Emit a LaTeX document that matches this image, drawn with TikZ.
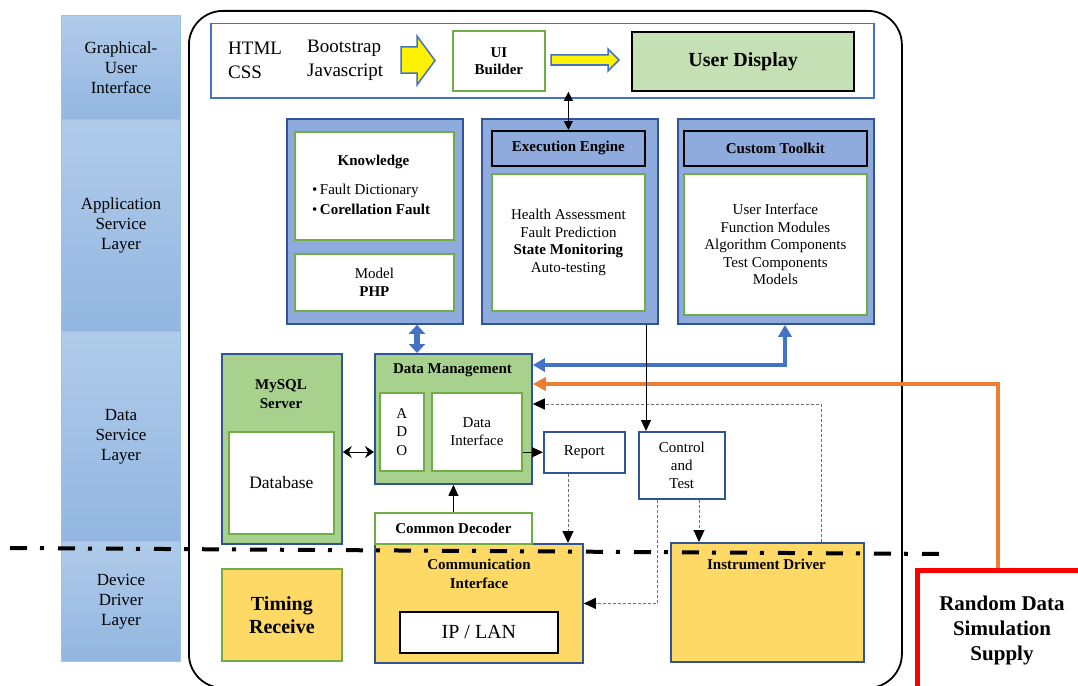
\documentclass[tikz,border=0pt]{standalone}
\usepackage{fontspec}
\setmainfont{Liberation Serif}
\usetikzlibrary{arrows.meta}
\definecolor{layerline}{HTML}{9DC3E6}
\definecolor{layertop}{HTML}{B0CBEA}
\definecolor{layerbot}{HTML}{92B6E0}
\definecolor{panelblue}{HTML}{8FAADC}
\definecolor{darkblue}{HTML}{2F5597}
\definecolor{midblue}{HTML}{4472C4}
\definecolor{leafgreen}{HTML}{70AD47}
\definecolor{datagreen}{HTML}{A9D18E}
\definecolor{palegreen}{HTML}{C5E0B4}
\definecolor{gold}{HTML}{FFD966}
\definecolor{orng}{HTML}{ED7D31}
\definecolor{dashgray}{HTML}{6F6F6F}
\tikzset{
	box/.style={anchor=north west, inner sep=0, align=center},
	layer/.style={box, draw=layerline, line width=1pt, top color=layertop, bottom color=layerbot,
		minimum width=119, font=\fontsize{17}{20}\selectfont},
	panel/.style={box, draw=darkblue, fill=panelblue, line width=1.8pt},
	leaf/.style={box, draw=leafgreen, fill=white, line width=1.8pt, font=\fontsize{15}{17.5}\selectfont},
	head/.style={box, draw=black, fill=panelblue, line width=1.8pt, font=\bfseries\fontsize{15}{18}\selectfont},
	store/.style={box, draw=darkblue, fill=datagreen, line width=1.8pt},
	dev/.style={box, draw=darkblue, fill=gold, line width=1.8pt},
	plain/.style={box, draw=darkblue, fill=white, line width=1.5pt, font=\fontsize{15}{18}\selectfont},
	title/.style={inner sep=0, align=center, font=\bfseries\fontsize{15}{18.5}\selectfont},
	arr/.style={draw=black, line width=1pt, -{Triangle[width=10pt,length=11pt]}},
	both/.style={draw=black, line width=1pt, {Stealth[width=12pt,length=9pt]}-{Stealth[width=12pt,length=9pt]}},
	dasharr/.style={draw=dashgray, line width=1pt, dash pattern=on 3pt off 2pt, -{Triangle[width=11pt,length=12pt,color=black]}},
	fatarrow/.style={draw=midblue, fill=yellow, line width=1.5pt}
}
\begin{document}
\begin{tikzpicture}[x=1pt, y=-1pt]
	\useasboundingbox (0,0) rectangle (1078,685);
	\node[layer, minimum height=104] (lgui) at (61,15) {Graphical-\\User\\Interface};
	\node[layer, minimum height=212] (lapp) at (61,119) {Application\\Service\\Layer};
	\node[layer, minimum height=210] (ldata) at (61,331) {Data\\Service\\Layer};
	\node[layer, minimum height=120] (ldev) at (61,541) {Device\\Driver\\Layer};
	\node[box, draw=black, line width=1.8pt, rounded corners=34, minimum width=713, minimum height=677] (frame) at (188,10) {};

	\node[box, draw=midblue, fill=white, line width=1.5pt, minimum width=663, minimum height=74] (guibox) at (210,23) {};
	\node[anchor=west, inner sep=0, align=left, font=\fontsize{19}{24}\selectfont] (html) at (228,60) {HTML\\CSS};
	\node[anchor=west, inner sep=0, align=left, font=\fontsize{19}{24}\selectfont] (boot) at (307,60) {Bootstrap\\Javascript};
	\draw[fatarrow] (401,47) -- (417,47) -- (417,36) -- (435,60.5) -- (417,85) -- (417,73) -- (401,73) -- cycle;
	\node[leaf, minimum width=92, minimum height=60, font=\bfseries\fontsize{15}{17}\selectfont] (ui) at (452,30) {UI\\Builder};
	\draw[fatarrow] (551,55) -- (608,55) -- (608,49) -- (619,60) -- (608,71) -- (608,65) -- (551,65) -- cycle;
	\node[box, draw=black, fill=palegreen, line width=2.2pt, minimum width=222, minimum height=59,
		font=\bfseries\fontsize{20}{24}\selectfont] (disp) at (631,31) {User Display};

	\node[panel, minimum width=176, minimum height=205] (know) at (286,118) {};
	\node[leaf, minimum width=159, minimum height=108] (kbox) at (294,131) {};
	\node[title] (ktitle) at (373.5,162) {Knowledge};
	\node[anchor=west, inner sep=0, align=left, font=\fontsize{15}{20}\selectfont] (kitems) at (312,199)
		{\textbullet\,Fault Dictionary\\\textbullet\,\textbf{Corellation Fault}};
	\node[leaf, minimum width=159, minimum height=57] (model) at (294,253) {Model\\\textbf{PHP}};

	\node[panel, minimum width=176, minimum height=205] (exe) at (481,118) {};
	\node[head, minimum width=153, minimum height=35] (ehead) at (491,130) {Execution Engine};
	\node[leaf, minimum width=153, minimum height=137] (ebody) at (491,173)
		{Health Assessment\\Fault Prediction\\\textbf{State Monitoring}\\Auto-testing};

	\node[panel, minimum width=196, minimum height=205] (tk) at (677,118) {};
	\node[head, minimum width=183, minimum height=35] (thead) at (683,130) {Custom Toolkit};
	\node[leaf, minimum width=183, minimum height=141] (tbody) at (683,173)
		{User Interface\\Function Modules\\Algorithm Components\\Test Components\\Models};

	\node[store, minimum width=120, minimum height=190] (sql) at (221,353) {};
	\node[title] (sqltitle) at (281,394) {MySQL\\Server};
	\node[leaf, minimum width=105, minimum height=102, font=\fontsize{17.5}{20}\selectfont] (db) at (228,431) {Database};

	\node[store, minimum width=157, minimum height=130] (dm) at (374,353) {};
	\node[title] (dmtitle) at (452.5,370) {Data Management};
	\node[leaf, minimum width=44, minimum height=78, font=\fontsize{15}{18.5}\selectfont] (ado) at (379,392) {A\\D\\O};
	\node[leaf, minimum width=90, minimum height=78, font=\fontsize{15}{18}\selectfont] (dif) at (431,392) {Data\\Interface};

	\node[plain, minimum width=81, minimum height=41] (rep) at (543,431) {Report};
	\node[plain, minimum width=86, minimum height=67] (ctl) at (638,431) {Control\\and\\Test};

	\node[dev, minimum width=208, minimum height=119] (comm) at (374,543) {};
	\node[leaf, minimum width=157, minimum height=31, font=\bfseries\fontsize{15}{18}\selectfont] (dec) at (374,512) {Common Decoder};
	\node[title, font=\bfseries\fontsize{15}{19}\selectfont] (commtitle) at (479,573.5) {Communication\\Interface};
	\node[box, draw=black, fill=white, line width=1.8pt, minimum width=158, minimum height=41,
		font=\fontsize{20}{24}\selectfont] (ip) at (399,611) {IP / LAN};
	\node[box, draw=leafgreen, fill=gold, line width=1.8pt, minimum width=120, minimum height=92,
		font=\bfseries\fontsize{20}{23}\selectfont] (timing) at (221,568) {Timing\\Receive};
	\node[dev, minimum width=193, minimum height=119] (drv) at (670,542) {};
	\node[title] (drvtitle) at (766.5,564) {Instrument Driver};

	\node[box, draw=red, fill=white, line width=5pt, minimum width=200, minimum height=150] (rnd) at (915,568) {};
	\node[title, font=\bfseries\fontsize{21}{25}\selectfont] (rndtitle) at (1002,630) {Random Data\\Simulation\\Supply};

	\coordinate (kd) at (417,0);
	\coordinate (tkout) at (785,0);
	\coordinate (rin) at (998,0);
	\coordinate (dout) at (821,0);
	\coordinate (sd) at (0,452);
	\coordinate (ctin) at (646,0);
	\coordinate (rc) at (568,0);
	\coordinate (cd) at (699,0);
	\coordinate (cc) at (657,0);

	\draw[draw=black, line width=1pt, {Triangle[width=9pt,length=9pt]}-{Triangle[width=9pt,length=9pt]}]
		(ehead.north |- ui.south) -- (ehead.north);
	\draw[draw=midblue, line width=6pt, {Triangle[width=16pt,length=9pt]}-{Triangle[width=16pt,length=9pt]}]
		(kd |- know.south) -- (kd |- dm.north);
	\draw[draw=midblue, line width=4pt, {Triangle[width=13pt,length=12pt]}-{Triangle[width=13pt,length=12pt]}]
		(tkout |- tk.south) |- ([yshift=-12pt]dm.north east);
	\draw[draw=orng, line width=4pt, -{Triangle[width=13pt,length=13pt]}]
		(rin |- rnd.north) |- ([yshift=-31pt]dm.north east);
	\draw[dasharr] (dout |- drv.north) |- ([yshift=-51pt]dm.north east);
	\draw[both] (sd -| sql.east) -- (sd -| dm.west);
	\draw[arr] (dif.east |- rep.west) -- (rep.west);
	\draw[arr] (ctin |- exe.south) -- (ctin |- ctl.north);
	\draw[arr] (dec.north) -- (dm.south);
	\draw[dasharr] (rc |- rep.south) -- (rc |- comm.north);
	\draw[dasharr] (cd |- ctl.south) -- (cd |- drv.north);
	\draw[dasharr] (cc |- ctl.south) |- (comm.east);

	\draw[line width=4pt, dash pattern=on 17pt off 13pt on 4pt off 14pt] (10,548) -- (945,554);
\end{tikzpicture}
\end{document}
